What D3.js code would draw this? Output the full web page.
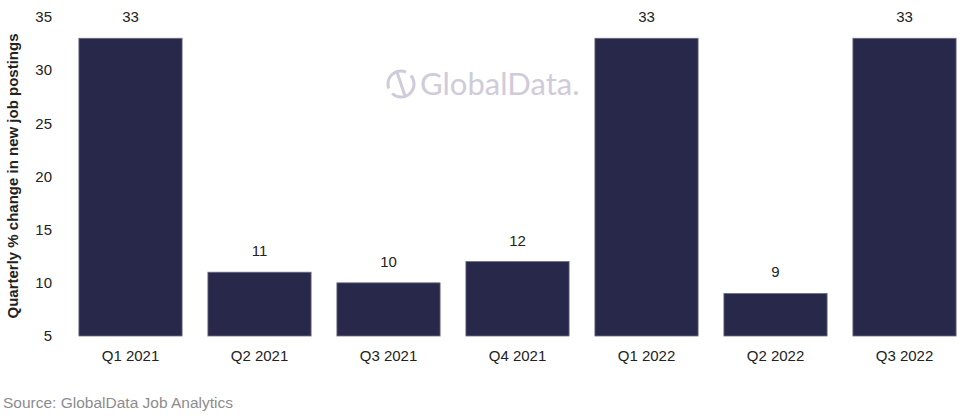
<!DOCTYPE html>
<html lang="en">
<head>
    <meta charset="UTF-8">
    <title>Quarterly % change in new job postings</title>
    <script src="https://d3js.org/d3.v7.min.js"></script>
    <style>
        body { margin: 0; background: #fff; }
        text { font-family: "Liberation Sans", Arial, sans-serif; }
    </style>
</head>
<body>
    <div id="chart"></div>

    <script>
        // Data
        const quarters = ["Q1 2021", "Q2 2021", "Q3 2021", "Q4 2021", "Q1 2022", "Q2 2022", "Q3 2022"];
        const changes = [33, 11, 10, 12, 33, 9, 33];
        const yTicks = [5, 10, 15, 20, 25, 30, 35];

        const width = 973, height = 416;

        const svg = d3.select("#chart").append("svg")
            .attr("width", width)
            .attr("height", height);

        const x = d3.scaleBand()
            .domain(quarters)
            .range([66, 969])
            .paddingInner(0.2)
            .paddingOuter(0.1);

        const y = d3.scaleLinear()
            .domain([5, 35])
            .range([336, 17]);

        // Watermark
        const wm = svg.append("g").attr("transform", "translate(388,84)").attr("opacity", 0.9);
        wm.append("circle").attr("cx", 13).attr("cy", 0).attr("r", 13)
            .attr("fill", "none").attr("stroke", "#cbc6d6").attr("stroke-width", 3)
            .attr("stroke-dasharray", "30 6");
        wm.append("line").attr("x1", 9).attr("y1", -12).attr("x2", 17).attr("y2", 12)
            .attr("stroke", "#cbc6d6").attr("stroke-width", 3);
        wm.append("text").attr("x", 32).attr("y", 11)
            .attr("font-size", 31).attr("fill", "#cbc6d6")
            .style("font-family", "Lato, 'Open Sans', sans-serif")
            .text("GlobalData.");

        // Y axis tick labels
        svg.append("g").selectAll("text")
            .data(yTicks)
            .join("text")
            .attr("x", 52)
            .attr("y", d => y(d))
            .attr("dy", "0.35em")
            .attr("text-anchor", "end")
            .attr("font-size", 15)
            .attr("fill", "#222")
            .text(d => d);

        // Y axis title
        svg.append("text")
            .attr("transform", "translate(18,176) rotate(-90)")
            .attr("text-anchor", "middle")
            .attr("font-size", 15)
            .attr("font-weight", "bold")
            .attr("fill", "#222")
            .text("Quarterly % change in new job postings");

        // Bars
        svg.append("g").selectAll("rect")
            .data(quarters)
            .join("rect")
            .attr("x", d => x(d))
            .attr("y", (d, i) => y(changes[i]))
            .attr("width", x.bandwidth())
            .attr("height", (d, i) => y(5) - y(changes[i]))
            .attr("fill", "#28284a")
            .attr("stroke", "#6e6c85")
            .attr("stroke-width", 0.8);

        // Value labels
        svg.append("g").selectAll("text")
            .data(quarters)
            .join("text")
            .attr("x", d => x(d) + x.bandwidth() / 2)
            .attr("y", (d, i) => y(changes[i]) - 16)
            .attr("text-anchor", "middle")
            .attr("font-size", 15)
            .attr("fill", "#222")
            .text((d, i) => changes[i]);

        // Category labels
        svg.append("g").selectAll("text")
            .data(quarters)
            .join("text")
            .attr("x", d => x(d) + x.bandwidth() / 2)
            .attr("y", 361)
            .attr("text-anchor", "middle")
            .attr("font-size", 15)
            .attr("fill", "#222")
            .text(d => d);

        // Source
        svg.append("text")
            .attr("x", 3)
            .attr("y", 408)
            .attr("font-size", 15.5)
            .attr("fill", "#8c8c8c")
            .text("Source: GlobalData Job Analytics");
    </script>
</body>
</html>
